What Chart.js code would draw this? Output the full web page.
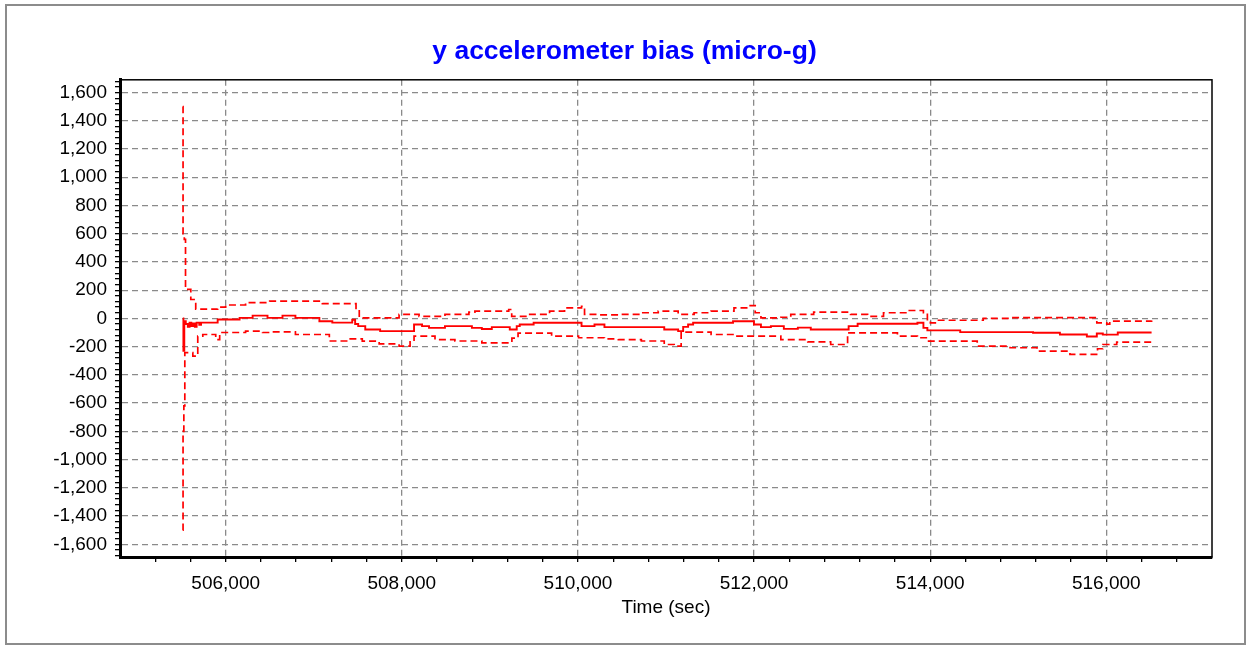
<!DOCTYPE html>
<html>
<head>
<meta charset="utf-8">
<title>y accelerometer bias</title>
<script src="https://cdn.jsdelivr.net/npm/chart.js@4.4.1/dist/chart.umd.min.js"></script>
<style>
  html, body { margin: 0; padding: 0; background: #fff; }
  #wrap { width: 1249px; height: 647px; position: relative; }
</style>
</head>
<body>
<div id="wrap"><canvas id="biasChart"></canvas></div>
<script>
// estimate (solid line)
const centerT = [505513, 505520, 505530, 505547, 505570, 505590, 505610, 505630, 505650, 505670,
                 505700, 505720, 505909, 506158, 506306, 506475, 506645, 506792, 507064, 507211,
                 507437, 507470, 507505, 507585, 507754, 508139, 508230, 508309, 508490, 508796,
                 508909, 509022, 509226, 509305, 509339, 509497, 510041, 510188, 510301, 510980,
                 511138, 511195, 511251, 511308, 511761, 511999, 512078, 512191, 512338, 512497,
                 512644, 513074, 513176, 513855, 513923, 513968, 514341, 515168, 515473, 515779,
                 515892, 515960, 516130, 516514];
const centerV = [0, -230, -20, -40, -60, -30, -55, -35, -60, -30,
                 -45, -30, -8, 4, 20, 4, 20, 4, -20, -30,
                 -10, -40, -55, -79, -90, -43, -55, -67, -55, -67,
                 -75, -62, -79, -55, -43, -31, -55, -43, -62, -79,
                 -90, -60, -43, -31, -20, -43, -62, -55, -74, -65,
                 -79, -55, -38, -31, -67, -85, -97, -102, -114, -128,
                 -107, -115, -100, -100];

// upper bound (dashed)
const upperT = [505513, 505516, 505530, 505544, 505604, 505660, 505909, 506000, 506226, 506500,
                507098, 507480, 507517, 507969, 508196, 508490, 508762, 508830, 509214, 509248,
                509441, 509678, 509848, 510041, 510075, 510233, 510493, 510720, 510912, 511138,
                511319, 511512, 511772, 511956, 512013, 512078, 512304, 512417, 512677, 513096,
                513289, 513470, 513742, 513923, 513968, 514002, 514081, 514602, 514907, 515892,
                516005, 516039, 516514];
const upperV = [1500, 600, 560, 205, 134, 65, 80, 95, 112, 122,
                105, 60, 4, 28, 15, 28, 44, 51, 63, 15,
                28, 51, 75, 86, 28, 25, 28, 40, 51, 28,
                40, 51, 75, 91, 40, 4, 8, 28, 44, 28,
                15, 40, 56, 40, -20, -31, -13, 0, 5, -31,
                -40, -20, -15];

// lower bound (dashed)
const lowerT = [505513, 505516, 505525, 505536, 505627, 505683, 505740, 505887, 505932, 506226,
                506419, 506498, 506792, 507177, 507403, 507551, 507743, 507969, 508094, 508139,
                508377, 508603, 508909, 509250, 509320, 509701, 510007, 510301, 510459, 510720,
                510980, 511093, 511172, 511512, 511772, 512304, 512610, 512870, 513062, 513628,
                513855, 513968, 514534, 514907, 515213, 515587, 515900, 515960, 516118, 516514];
const lowerV = [-1500, -800, -620, -243, -267, -126, -114, -150, -100, -90,
                -100, -95, -114, -160, -145, -161, -180, -196, -160, -126,
                -150, -160, -173, -140, -105, -126, -137, -145, -150, -160,
                -185, -196, -97, -114, -126, -150, -166, -185, -102, -126,
                -137, -161, -196, -208, -232, -255, -215, -185, -168, -168];

// axis ticks (major ones get labels and grid lines)
const xMajor = 2000, xMinor = 400;
const yMajor = 200, yMinor = 40;
const xTicks = [];
for (let v = 505200; v <= 516800; v += xMinor) xTicks.push(v);
const yTicks = [];
for (let v = -1680; v <= 1680; v += yMinor) yTicks.push(v);

const FONT = "'Liberation Sans', Arial, sans-serif";
const fmt = v => String(v).replace(/\B(?=(\d{3})+(?!\d))/g, ',');
const pts = (t, v) => t.map((x, i) => ({ x: x, y: v[i] }));

const framePlugin = {
    id: 'frame',
    beforeDraw(chart) {
        const c = chart.ctx;
        c.save();
        c.fillStyle = '#fff';
        c.fillRect(0, 0, chart.width, chart.height);
        c.strokeStyle = '#8c8c8c';
        c.lineWidth = 2;
        c.strokeRect(6, 5, 1239, 639);
        c.restore();
    },
    afterDraw(chart) {
        const a = chart.chartArea;
        const c = chart.ctx;
        c.save();
        c.strokeStyle = '#000';
        c.lineWidth = 1.5;
        c.strokeRect(a.left, a.top, a.right - a.left, a.bottom - a.top);
        c.restore();
    }
};

const ctx = document.getElementById('biasChart').getContext('2d');
new Chart(ctx, {
    type: 'line',
    data: {
        datasets: [
            { label: 'bias', data: pts(centerT, centerV), borderColor: '#ff0000', borderWidth: 1.9 },
            { label: 'upper', data: pts(upperT, upperV), borderColor: '#ff0000', borderWidth: 1.7, borderDash: [7, 4] },
            { label: 'lower', data: pts(lowerT, lowerV), borderColor: '#ff0000', borderWidth: 1.7, borderDash: [7, 4] }
        ]
    },
    options: {
        responsive: true,
        maintainAspectRatio: false,
        animation: false,
        elements: { point: { radius: 0 }, line: { stepped: true, tension: 0 } },
        layout: { padding: 0 },
        plugins: {
            legend: { display: false },
            tooltip: { enabled: false },
            title: {
                display: true,
                text: 'y accelerometer bias (micro-g)',
                color: '#0000ff',
                font: { family: FONT, size: 26.5, weight: 'bold' },
                padding: { top: 36, bottom: 12 }
            }
        },
        scales: {
            x: {
                type: 'linear',
                min: 504800,
                max: 517200,
                afterBuildTicks: s => { s.ticks = xTicks.map(v => ({ value: v })); },
                afterFit: s => { s.height = 90; },
                ticks: {
                    autoSkip: false,
                    maxRotation: 0,
                    padding: 10,
                    color: '#000',
                    font: { family: FONT, size: 19 },
                    callback: v => (v % xMajor === 0 ? fmt(v) : '')
                },
                grid: {
                    color: c => (c.tick && c.tick.value % xMajor === 0 ? '#8a8a8a' : 'transparent'),
                    lineWidth: 1.3,
                    tickColor: '#000',
                    tickLength: 5
                },
                border: { display: true, color: '#000', width: 3, dash: [6, 4] },
                title: {
                    display: true,
                    text: 'Time (sec)',
                    color: '#000',
                    font: { family: FONT, size: 19 },
                    padding: { top: 28, bottom: 28 }
                }
            },
            y: {
                type: 'linear',
                min: -1690,
                max: 1690,
                afterBuildTicks: s => { s.ticks = yTicks.map(v => ({ value: v })); },
                afterFit: s => { s.width = 120; },
                ticks: {
                    autoSkip: false,
                    padding: 8,
                    color: '#000',
                    font: { family: FONT, size: 19 },
                    callback: v => (v % yMajor === 0 ? fmt(v) : '')
                },
                grid: {
                    color: c => (c.tick && c.tick.value % yMajor === 0 ? '#8a8a8a' : 'transparent'),
                    lineWidth: 1.3,
                    tickColor: '#000',
                    tickLength: 5
                },
                border: { display: true, color: '#000', width: 3, dash: [6, 4] }
            },
            // empty right-hand spacer so the plot ends at the same place as the original
            yRight: {
                type: 'linear',
                position: 'right',
                min: -1690,
                max: 1690,
                afterFit: s => { s.width = 37; },
                ticks: { display: false },
                grid: { display: false, drawOnChartArea: false },
                border: { display: false }
            }
        }
    },
    plugins: [framePlugin]
});
</script>
</body>
</html>
